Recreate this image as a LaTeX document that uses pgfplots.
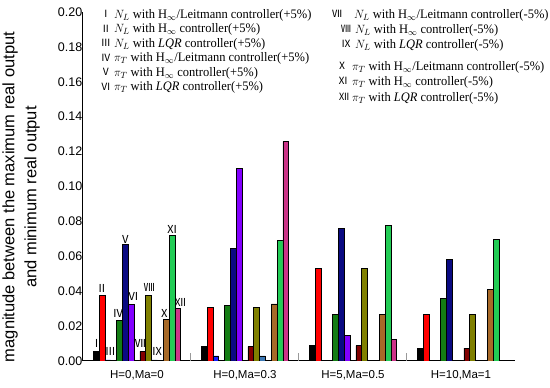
\documentclass[border=0pt]{standalone}
\usepackage{fontspec}
\setmainfont{Liberation Serif}
\setsansfont{Liberation Sans}
\newfontfamily\cjk{Noto Sans CJK SC}
\usepackage{pgfplots}
\pgfplotsset{compat=1.18}
\definecolor{cI}{RGB}{0,0,0}
\definecolor{cII}{RGB}{255,0,0}
\definecolor{cIII}{RGB}{20,30,255}
\definecolor{cIV}{RGB}{20,125,20}
\definecolor{cV}{RGB}{10,10,130}
\definecolor{cVI}{RGB}{130,0,255}
\definecolor{cVII}{RGB}{130,0,0}
\definecolor{cVIII}{RGB}{128,128,0}
\definecolor{cIX}{RGB}{60,120,180}
\definecolor{cX}{RGB}{168,106,40}
\definecolor{cXI}{RGB}{34,204,85}
\definecolor{cXII}{RGB}{204,51,136}
\tikzset{lab/.style={font=\cjk\fontsize{11}{11}\selectfont, inner sep=0pt},
         num/.style={inner sep=0pt, font=\cjk\fontsize{10}{10}\selectfont},
         lg/.style={anchor=west, inner sep=0pt, font=\fontsize{13}{14}\selectfont, text height=9pt, text depth=0.5pt, xscale=0.96, transform shape}}
\pgfplotsset{mybar/.style={ybar, bar width=1, bar shift=0pt, draw=black, line width=0.6pt, fill=#1}}
\begin{document}
\begin{tikzpicture}[x=1pt,y=1pt]
\useasboundingbox (-83,-27) rectangle (467,361);
\begin{axis}[
  at={(0,0)}, anchor=south west, scale only axis,
  width=432pt, height=349pt,
  xmin=0, xmax=74, ymin=0, ymax=0.2,
  axis x line*=bottom, axis y line*=left,
  axis line style={-, line width=1pt, black},
  major tick length=0pt,
  xtick={9.25,27.75,46.25,64.75},
  xticklabels={{H=0,Ma=0},{H=0,Ma=0.3},{H=5,Ma=0.5},{H=10,Ma=1}},
  xticklabel style={font=\sffamily\fontsize{11.5}{12}\selectfont, yshift=-6pt},
  extra x ticks={18.5,37,55.5},
  extra x tick labels={},
  extra x tick style={major tick length=8pt, tick align=inside, tick style={draw=gray!80, line width=1pt}},
  ytick={0,0.02,0.04,0.06,0.08,0.1,0.12,0.14,0.16,0.18,0.2},
  yticklabels={0.00,0.02,0.04,0.06,0.08,0.10,0.12,0.14,0.16,0.18,0.20},
  yticklabel style={font=\sffamily\fontsize{12.5}{13}\selectfont, inner sep=0.5pt},
]
\addplot[mybar=cI] coordinates {(2.25,0.0055) (20.75,0.0082) (39.25,0.0090) (57.75,0.0074)};
\addplot[mybar=cII] coordinates {(3.25,0.0377) (21.75,0.0308) (40.25,0.0531) (58.75,0.0268)};
\addplot[mybar=cIII] coordinates {(4.25,0.0006) (22.75,0.0029) (41.25,0.0005)};
\addplot[mybar=cIV] coordinates {(6.25,0.0233) (24.75,0.0317) (43.25,0.0268) (61.75,0.0359)};
\addplot[mybar=cV] coordinates {(7.25,0.0669) (25.75,0.0644) (44.25,0.0762) (62.75,0.0581)};
\addplot[mybar=cVI] coordinates {(8.25,0.0325) (26.75,0.1106) (45.25,0.0145)};
\addplot[mybar=cVII] coordinates {(10.25,0.0055) (28.75,0.0082) (47.25,0.0088) (65.75,0.0074)};
\addplot[mybar=cVIII] coordinates {(11.25,0.0377) (29.75,0.0308) (48.25,0.0531) (66.75,0.0268)};
\addplot[mybar=cIX] coordinates {(12.25,0.0006) (30.75,0.0029) (49.25,0.0005)};
\addplot[mybar=cX] coordinates {(14.25,0.0239) (32.75,0.0327) (51.25,0.0268) (69.75,0.0409)};
\addplot[mybar=cXI] coordinates {(15.25,0.0720) (33.75,0.0690) (52.25,0.0779) (70.75,0.0699)};
\addplot[mybar=cXII] coordinates {(16.25,0.0302) (34.75,0.1257) (53.25,0.0122)};
\node[lab] at (axis cs:2.35,0.0103) {Ⅰ};
\node[lab] at (axis cs:3.25,0.0418) {Ⅱ};
\node[lab] at (axis cs:4.68,0.0052) {Ⅲ};
\node[lab] at (axis cs:6.0,0.0275) {Ⅳ};
\node[lab] at (axis cs:7.25,0.0699) {Ⅴ};
\node[lab] at (axis cs:8.62,0.0367) {Ⅵ};
\node[lab] at (axis cs:9.82,0.0103) {Ⅶ};
\node[lab] at (axis cs:11.36,0.0424) {Ⅷ};
\node[lab] at (axis cs:12.68,0.0052) {Ⅸ};
\node[lab] at (axis cs:13.93,0.0275) {Ⅹ};
\node[lab] at (axis cs:15.25,0.0756) {Ⅺ};
\node[lab] at (axis cs:16.67,0.0338) {Ⅻ};
\end{axis}
\node[rotate=90, align=center, font=\sffamily\fontsize{16.5}{22}\selectfont, inner sep=0pt] at (-62,164)
  {magnitude between the maximum real output\\and minimum real output};
% column 1
\node[num] at (23,347) {Ⅰ};    \node[lg] at (31,347) {$N_L$ with H$_\infty$/Leitmann controller(+5\%)};
\node[num] at (23,332.5) {Ⅱ};  \node[lg] at (31,332.5) {$N_L$ with H$_\infty$ controller(+5\%)};
\node[num] at (23,318) {Ⅲ};    \node[lg] at (31,318) {$N_L$ with \textit{LQR} controller(+5\%)};
\node[num] at (23,303.5) {Ⅳ};  \node[lg] at (31,303.5) {$\pi_T$ with H$_\infty$/Leitmann controller(+5\%)};
\node[num] at (23,289) {Ⅴ};    \node[lg] at (31,289) {$\pi_T$ with H$_\infty$ controller(+5\%)};
\node[num] at (23,274.5) {Ⅵ};  \node[lg] at (31,274.5) {$\pi_T$ with \textit{LQR} controller(+5\%)};
% column 2
\node[num] at (254,347) {Ⅶ};  \node[lg] at (271,347) {$N_L$ with H$_\infty$/Leitmann controller(-5\%)};
\node[num] at (263,332) {Ⅷ};  \node[lg] at (272,332) {$N_L$ with H$_\infty$ controller(-5\%)};
\node[num] at (263,317) {Ⅸ};  \node[lg] at (272,317) {$N_L$ with \textit{LQR} controller(-5\%)};
\node[num] at (259,295) {Ⅹ};  \node[lg] at (269,295) {$\pi_T$ with H$_\infty$/Leitmann controller(-5\%)};
\node[num] at (260,280) {Ⅺ};  \node[lg] at (269,280) {$\pi_T$ with H$_\infty$ controller(-5\%)};
\node[num] at (261,264) {Ⅻ};  \node[lg] at (269,264) {$\pi_T$ with \textit{LQR} controller(-5\%)};
\end{tikzpicture}
\end{document}
